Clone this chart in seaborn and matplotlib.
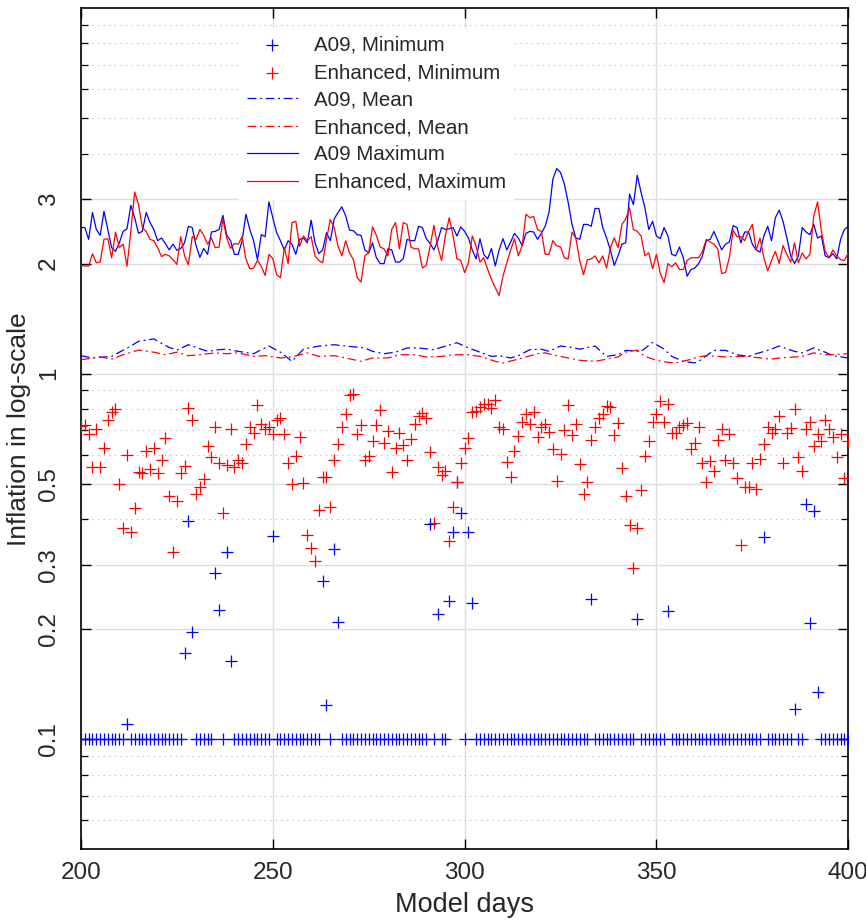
import numpy as np
import pandas as pd
import matplotlib
matplotlib.use("Agg")
import matplotlib.pyplot as plt
from matplotlib.ticker import FixedLocator, NullFormatter, FixedFormatter
import seaborn as sns

# ---- data -------------------------------------------------------------
days = list(range(200, 401))

a09_min = [
    0.1, 0.1, 0.1, 0.1, 0.1, 0.1, 0.1, 0.1, 0.1, 0.1,          # 200-209
    0.1, 0.1, 0.11, 0.1, 0.1, 0.1, 0.1, 0.1, 0.1, 0.1,         # 210-219
    0.1, 0.1, 0.1, 0.1, 0.1, 0.1, 0.1, 0.172, 0.395, 0.196,    # 220-229
    0.1, 0.1, 0.1, 0.1, 0.1, 0.285, 0.226, 0.1, 0.325, 0.164,  # 230-239
    0.1, 0.1, 0.1, 0.1, 0.1, 0.1, 0.1, 0.1, 0.1, 0.1,          # 240-249
    0.36, 0.1, 0.1, 0.1, 0.1, 0.1, 0.1, 0.1, 0.1, 0.1,         # 250-259
    0.1, 0.1, 0.1, 0.271, 0.124, 0.1, 0.332, 0.21, 0.1, 0.1,   # 260-269
    0.1, 0.1, 0.1, 0.1, 0.1, 0.1, 0.1, 0.1, 0.1, 0.1,          # 270-279
    0.1, 0.1, 0.1, 0.1, 0.1, 0.1, 0.1, 0.1, 0.1, 0.1,          # 280-289
    0.1, 0.388, 0.1, 0.22, 0.1, 0.1, 0.239, 0.37, 0.506, 0.416,  # 290-299
    0.1, 0.37, 0.236, 0.1, 0.1, 0.1, 0.1, 0.1, 0.1, 0.1,       # 300-309
    0.1, 0.1, 0.1, 0.1, 0.1, 0.1, 0.1, 0.1, 0.1, 0.1,          # 310-319
    0.1, 0.1, 0.1, 0.1, 0.1, 0.1, 0.1, 0.1, 0.1, 0.1,          # 320-329
    0.1, 0.1, 0.1, 0.242, 0.1, 0.1, 0.1, 0.1, 0.1, 0.1,        # 330-339
    0.1, 0.1, 0.1, 0.1, 0.1, 0.213, 0.1, 0.1, 0.1, 0.1,        # 340-349
    0.1, 0.1, 0.1, 0.225, 0.1, 0.1, 0.1, 0.1, 0.1, 0.1,        # 350-359
    0.1, 0.1, 0.1, 0.1, 0.1, 0.1, 0.1, 0.1, 0.1, 0.1,          # 360-369
    0.1, 0.1, 0.1, 0.1, 0.1, 0.1, 0.1, 0.1, 0.357, 0.1,        # 370-379
    0.1, 0.1, 0.1, 0.1, 0.1, 0.1, 0.121, 0.1, 0.1, 0.44,       # 380-389
    0.208, 0.42, 0.135, 0.1, 0.1, 0.1, 0.1, 0.1, 0.1, 0.1,     # 390-399
    0.1,                                                       # 400
]

enh_min = [
    0.72, 0.725, 0.685, 0.555, 0.705, 0.555, 0.626, 0.745, 0.788, 0.80,
    0.498, 0.379, 0.601, 0.368, 0.428, 0.539, 0.535, 0.616, 0.548, 0.628,
    0.535, 0.581, 0.665, 0.463, 0.326, 0.449, 0.535, 0.56, 0.805, 0.745,
    0.468, 0.489, 0.514, 0.635, 0.592, 0.717, 0.571, 0.415, 0.564, 0.705,
    0.555, 0.581, 0.571, 0.643, 0.714, 0.688, 0.821, 0.73, 0.705, 0.717,
    0.684, 0.748, 0.756, 0.684, 0.569, 0.498, 0.596, 0.671, 0.502, 0.361,
    0.333, 0.307, 0.424, 0.521, 0.521, 0.431, 0.581, 0.643, 0.714, 0.777,
    0.872, 0.878, 0.685, 0.725, 0.579, 0.596, 0.655, 0.725, 0.797, 0.646,
    0.698, 0.537, 0.628, 0.688, 0.639, 0.581, 0.662, 0.728, 0.767, 0.78,
    0.756, 0.609, 0.39, 0.554, 0.527, 0.543, 0.348, 0.433, 0.504, 0.569,
    0.628, 0.666, 0.788, 0.793, 0.81, 0.828, 0.828, 0.805, 0.845, 0.713,
    0.707, 0.574, 0.523, 0.616, 0.676, 0.74, 0.775, 0.73, 0.788, 0.673,
    0.717, 0.73, 0.692, 0.622, 0.51, 0.604, 0.703, 0.822, 0.678, 0.73,
    0.567, 0.469, 0.507, 0.659, 0.717, 0.756, 0.777, 0.814, 0.81, 0.68,
    0.733, 0.552, 0.464, 0.386, 0.294, 0.379, 0.481, 0.595, 0.654, 0.74,
    0.777, 0.84, 0.74, 0.828, 0.688, 0.688, 0.717, 0.725, 0.733, 0.622,
    0.646, 0.717, 0.571, 0.504, 0.578, 0.542, 0.657, 0.705, 0.581, 0.685,
    0.569, 0.52, 0.34, 0.489, 0.489, 0.569, 0.484, 0.584, 0.643, 0.717,
    0.688, 0.705, 0.767, 0.569, 0.688, 0.71, 0.80, 0.59, 0.542, 0.705,
    0.74, 0.636, 0.685, 0.653, 0.748, 0.705, 0.671, 0.59, 0.685, 0.518,
    0.653,
]

a09_max = [
    2.51, 2.51, 2.33, 2.76, 2.48, 2.39, 2.78, 2.48, 2.21, 2.16,
    2.28, 2.45, 2.49, 2.885, 2.67, 2.42, 2.45, 2.76, 2.59, 2.48,
    2.31, 2.35, 2.27, 2.18, 2.26, 2.175, 2.20, 2.28, 2.53, 2.51,
    2.24, 2.08, 2.20, 2.12, 2.44, 2.45, 2.48, 2.71, 2.39, 2.31,
    2.12, 2.12, 2.31, 2.73, 2.48, 2.31, 2.05, 2.40, 2.37, 2.95,
    2.67, 2.43, 2.31, 2.18, 2.31, 2.26, 2.12, 2.33, 2.35, 2.28,
    2.63, 2.28, 2.13, 2.18, 2.43, 2.31, 2.65, 2.76, 2.86, 2.70,
    2.47, 2.46, 2.40, 2.39, 2.18, 2.14, 2.28, 2.075, 2.00, 2.00,
    2.195, 2.18, 2.02, 2.02, 2.06, 2.33, 2.31, 2.31, 2.53, 2.51,
    2.34, 2.27, 2.18, 2.31, 2.51, 2.48, 2.49, 2.51, 2.38, 2.52,
    2.45, 2.35, 2.18, 2.06, 2.34, 2.12, 2.06, 2.20, 1.97, 2.18,
    2.34, 2.18, 2.29, 2.42, 2.35, 2.24, 2.42, 2.45, 2.44, 2.33,
    2.42, 2.53, 2.76, 3.40, 3.64, 3.55, 3.30, 2.94, 2.56, 2.35,
    2.33, 2.56, 2.56, 2.53, 2.83, 2.83, 2.51, 2.35, 2.18, 1.977,
    2.10, 2.26, 2.28, 3.10, 2.90, 3.49, 3.13, 2.84, 2.48, 2.61,
    2.38, 2.34, 2.51, 2.38, 2.12, 2.10, 2.22, 2.075, 1.848, 1.927,
    1.945, 2.00, 2.10, 2.31, 2.33, 2.45, 2.31, 2.18, 2.26, 2.29,
    2.54, 2.51, 2.28, 2.44, 2.44, 2.26, 2.18, 2.15, 2.38, 2.53,
    2.31, 2.67, 2.80, 2.61, 2.35, 2.10, 2.00, 2.10, 2.51, 2.44,
    2.40, 2.56, 2.35, 2.38, 2.10, 2.075, 2.13, 2.06, 2.33, 2.48,
    2.53,
]

enh_max = [
    1.98, 1.97, 1.97, 2.128, 2.01, 2.02, 2.33, 2.34, 2.075, 2.44,
    2.21, 2.26, 1.968, 2.45, 3.14, 2.90, 2.51, 2.45, 2.33, 2.31,
    2.21, 2.09, 2.12, 2.10, 2.05, 1.99, 2.37, 2.10, 1.985, 2.37,
    2.33, 2.48, 2.39, 2.26, 2.35, 2.21, 2.22, 2.65, 2.35, 2.20,
    2.27, 2.26, 2.37, 2.06, 1.936, 1.945, 2.04, 1.968, 1.856, 2.12,
    2.065, 1.865, 1.83, 2.21, 2.00, 2.59, 2.61, 2.23, 2.38, 2.31,
    2.37, 2.10, 2.04, 2.01, 2.33, 2.64, 2.51, 2.23, 2.10, 2.31,
    2.14, 2.05, 1.83, 1.78, 2.10, 2.14, 2.52, 2.39, 2.22, 2.195,
    2.10, 2.48, 2.59, 2.195, 2.59, 2.56, 2.22, 2.195, 2.195, 1.945,
    1.977, 2.23, 2.545, 2.22, 2.04, 2.39, 2.67, 2.38, 2.06, 2.04,
    1.89, 2.01, 2.38, 2.23, 2.02, 2.075, 1.93, 1.81, 1.717, 1.636,
    1.848, 2.01, 2.18, 2.34, 2.10, 2.24, 2.73, 2.67, 2.69, 2.48,
    2.45, 2.12, 2.12, 2.31, 2.24, 2.22, 2.075, 2.06, 2.44, 2.345,
    2.04, 1.865, 2.05, 2.06, 2.10, 2.01, 2.10, 1.945, 2.21, 2.35,
    2.21, 2.56, 2.65, 2.84, 2.48, 2.45, 2.38, 2.10, 2.14, 1.936,
    2.12, 1.88, 1.775, 2.00, 1.96, 2.01, 1.927, 1.927, 2.04, 2.075,
    2.075, 2.075, 2.16, 2.33, 2.29, 2.26, 2.195, 1.88, 1.89, 2.075,
    2.47, 2.37, 2.37, 2.31, 2.45, 2.56, 2.18, 2.35, 2.075, 1.91,
    2.04, 2.16, 2.00, 2.24, 2.12, 2.02, 2.28, 2.01, 2.14, 2.06,
    2.12, 2.69, 2.95, 2.45, 2.16, 2.075, 2.18, 2.10, 2.05, 2.04,
    2.14,
]

a09_mean_days = [200, 203, 208, 211, 213, 215, 219, 221, 223, 225,
                 228, 230, 233, 236, 238, 241, 245, 247, 249, 252,
                 255, 258, 262, 266, 269, 274, 276, 279, 282, 285,
                 288, 292, 295, 298, 301, 304, 307, 309, 312, 314,
                 317, 320, 322, 325, 328, 330, 334, 337, 340, 342,
                 346, 349, 352, 354, 357, 360, 361, 365, 368, 371,
                 374, 376, 379, 382, 386, 388, 391, 394, 396, 400]
a09_mean = [1.12, 1.104, 1.115, 1.16, 1.19, 1.226, 1.245, 1.21, 1.18, 1.16,
            1.20, 1.18, 1.151, 1.163, 1.167, 1.151, 1.134, 1.163, 1.19, 1.145,
            1.081, 1.167, 1.19, 1.20, 1.19, 1.176, 1.151, 1.134, 1.145, 1.176,
            1.176, 1.163, 1.19, 1.215, 1.176, 1.145, 1.115, 1.12, 1.104, 1.12,
            1.163, 1.167, 1.151, 1.19, 1.18, 1.167, 1.19, 1.115, 1.127, 1.158,
            1.151, 1.218, 1.167, 1.115, 1.081, 1.07, 1.081, 1.158, 1.158, 1.127,
            1.115, 1.134, 1.158, 1.19, 1.151, 1.14, 1.176, 1.145, 1.12, 1.104]

enh_mean_days = [200, 205, 208, 211, 215, 219, 222, 225, 228, 231,
                 235, 238, 241, 245, 248, 252, 255, 259, 262, 266,
                 269, 273, 276, 280, 283, 287, 290, 294, 297, 299,
                 301, 304, 308, 310, 314, 316, 319, 321, 324, 327,
                 330, 334, 337, 340, 342, 345, 347, 350, 353, 355,
                 358, 361, 363, 366, 368, 371, 374, 377, 380, 382,
                 386, 388, 391, 394, 396, 400]
enh_mean = [1.092, 1.111, 1.096, 1.127, 1.16, 1.145, 1.127, 1.145, 1.12, 1.127,
            1.14, 1.134, 1.14, 1.115, 1.12, 1.104, 1.111, 1.14, 1.115, 1.12,
            1.104, 1.081, 1.104, 1.104, 1.127, 1.127, 1.111, 1.115, 1.127, 1.127,
            1.127, 1.115, 1.081, 1.07, 1.096, 1.111, 1.134, 1.14, 1.12, 1.104,
            1.088, 1.081, 1.096, 1.111, 1.145, 1.16, 1.115, 1.088, 1.074, 1.07,
            1.088, 1.111, 1.12, 1.115, 1.111, 1.115, 1.115, 1.104, 1.096, 1.104,
            1.111, 1.115, 1.14, 1.127, 1.127, 1.134]

y_major = [0.1, 0.2, 0.3, 0.5, 1, 2, 3]
y_major_labels = ["0.1", "0.2", "0.3", "0.5", "1", "2", "3"]
y_minor = [0.06, 0.07, 0.08, 0.09, 0.4, 0.6, 0.7, 0.8, 0.9, 4, 5, 6, 7, 8, 9]
x_ticks = [200, 250, 300, 350, 400]

# ---- style ------------------------------------------------------------
sns.set_theme(style="ticks")
plt.rcParams["font.family"] = ["Liberation Sans", "DejaVu Sans"]

BLUE = "#0000ff"
RED = "#ff0000"

fig = plt.figure(figsize=(8.66, 9.21), dpi=100)
ax = fig.add_axes([0.0935, 0.0777, 0.886, 0.9136])

daily = pd.DataFrame({"day": days, "a09_min": a09_min, "enh_min": enh_min,
                      "a09_max": a09_max, "enh_max": enh_max})
mean_a = pd.DataFrame({"day": a09_mean_days, "v": a09_mean})
mean_e = pd.DataFrame({"day": enh_mean_days, "v": enh_mean})

sns.scatterplot(data=daily, x="day", y="a09_min", marker="+", color=BLUE,
                s=75, linewidth=0.9, ax=ax, label="A09, Minimum", zorder=3)
sns.scatterplot(data=daily, x="day", y="enh_min", marker="+", color=RED,
                s=75, linewidth=0.9, ax=ax, label="Enhanced, Minimum", zorder=3)
sns.lineplot(data=mean_a, x="day", y="v", color=BLUE, lw=0.9,
             linestyle=(0, (7, 3, 1.5, 3)), ax=ax, label="A09, Mean", zorder=3)
sns.lineplot(data=mean_e, x="day", y="v", color=RED, lw=0.9,
             linestyle=(0, (7, 3, 1.5, 3)), ax=ax, label="Enhanced, Mean", zorder=3)
sns.lineplot(data=daily, x="day", y="a09_max", color=BLUE, lw=0.9,
             ax=ax, label="A09 Maximum", zorder=3)
sns.lineplot(data=daily, x="day", y="enh_max", color=RED, lw=0.9,
             ax=ax, label="Enhanced, Maximum", zorder=3)

# ---- axes -------------------------------------------------------------
ax.set_yscale("log")
ax.set_ylim(0.05, 10)
ax.set_xlim(200, 400)
ax.yaxis.set_major_locator(FixedLocator(y_major))
ax.yaxis.set_major_formatter(FixedFormatter(y_major_labels))
ax.yaxis.set_minor_locator(FixedLocator(y_minor))
ax.yaxis.set_minor_formatter(NullFormatter())
ax.set_xticks(x_ticks)
ax.set_xticklabels([str(t) for t in x_ticks])

ax.grid(which="major", axis="both", color="#dedede", lw=1.0, ls="-", zorder=0)
ax.grid(which="minor", axis="y", color="#b4b4b4", lw=0.8, ls=(0, (1, 4)), zorder=0)
ax.set_axisbelow(True)

for s in ax.spines.values():
    s.set_color("black")
    s.set_linewidth(1.2)
    s.set_visible(True)

ax.tick_params(which="major", direction="in", length=7, width=1.0,
               top=True, right=True, labelsize=17.5, color="black")
ax.tick_params(which="minor", direction="in", length=5, width=0.9,
               top=False, right=True, left=True, color="black")
ax.tick_params(axis="x", which="major", pad=9)
ax.tick_params(axis="y", which="major", labelrotation=90, pad=15)
for lbl in ax.get_yticklabels():
    lbl.set_verticalalignment("center")

ax.set_xlabel("Model days", fontsize=19.5, labelpad=6)
ax.set_ylabel("Inflation in log-scale", fontsize=19, labelpad=5)

# legend in the fixed order of the series
handles, labels = ax.get_legend_handles_labels()
order = ["A09, Minimum", "Enhanced, Minimum", "A09, Mean", "Enhanced, Mean",
         "A09 Maximum", "Enhanced, Maximum"]
hmap = dict(zip(labels, handles))
leg = ax.legend([hmap[k] for k in order], order, loc="upper left",
                bbox_to_anchor=(0.192, 0.989), fontsize=14.8, frameon=True,
                facecolor="white", edgecolor="none", framealpha=1.0,
                fancybox=False, handlelength=2.5, handletextpad=0.75,
                labelspacing=0.41, borderpad=0.4, scatterpoints=1)
leg.set_zorder(5)

fig.savefig("out.png", dpi=100)
